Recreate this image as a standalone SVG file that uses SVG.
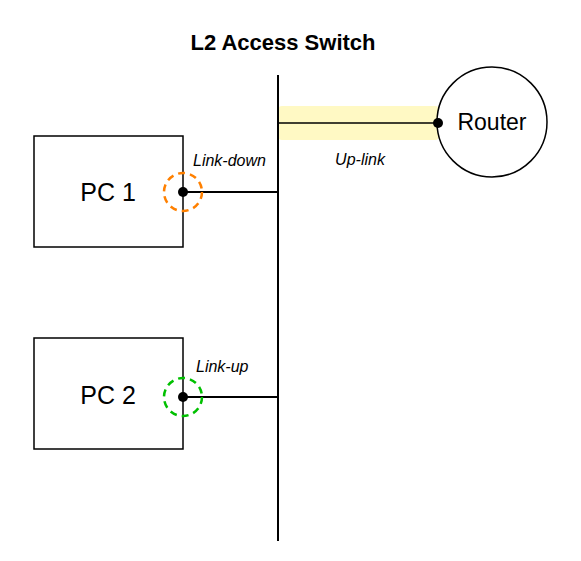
<svg xmlns="http://www.w3.org/2000/svg" width="581" height="561" viewBox="0 0 581 561">
<style>
.box{fill:#fff;stroke:#000;stroke-width:1.5}
.lbl{font-family:"Liberation Sans",Arial,sans-serif;fill:#000}
.it{font-family:"Liberation Sans",Arial,sans-serif;font-style:italic;font-size:16px;fill:#000}
.wire{stroke:#000;stroke-width:2;fill:none}
.dot{fill:#000}
</style>
<rect width="581" height="561" fill="#fff"/>
<g id="title"><text class="lbl" x="283" y="50" font-size="22" font-weight="bold" text-anchor="middle">L2 Access Switch</text></g>
<g id="connectors">
<rect x="278" y="106" width="161" height="34" rx="4" fill="#fff59d" opacity="0.6"/>
<line class="wire" x1="278" y1="75" x2="278" y2="541"/>
<line x1="278" y1="123" x2="438" y2="123" stroke="#000" stroke-width="1.5"/>
<line class="wire" x1="183" y1="192" x2="278" y2="192"/>
<line class="wire" x1="183" y1="397" x2="278" y2="397"/>
<text class="it" x="360" y="165" font-size="18" text-anchor="middle">Up-link</text>
<text class="it" x="193" y="166">Link-down</text>
<text class="it" x="196" y="372">Link-up</text>
</g>
<g id="router">
<circle cx="492" cy="122" r="55" fill="#fff" stroke="#000" stroke-width="1.5"/>
<text class="lbl" x="492" y="130" font-size="23" text-anchor="middle">Router</text>
<circle class="dot" cx="438" cy="123" r="5"/>
</g>
<g id="pc1">
<rect class="box" x="34" y="136" width="149" height="111"/>
<text class="lbl" x="108" y="201" font-size="25" text-anchor="middle">PC 1</text>
<circle class="dot" cx="183" cy="192" r="5"/>
<circle cx="183" cy="192" r="19" fill="none" stroke="#ff8000" stroke-width="2.5" stroke-dasharray="7 5"/>
</g>
<g id="pc2">
<rect class="box" x="34" y="338" width="149" height="111"/>
<text class="lbl" x="108" y="404" font-size="25" text-anchor="middle">PC 2</text>
<circle class="dot" cx="183" cy="397" r="5"/>
<circle cx="183" cy="397" r="19" fill="none" stroke="#00c000" stroke-width="2.5" stroke-dasharray="7 5"/>
</g>
</svg>
